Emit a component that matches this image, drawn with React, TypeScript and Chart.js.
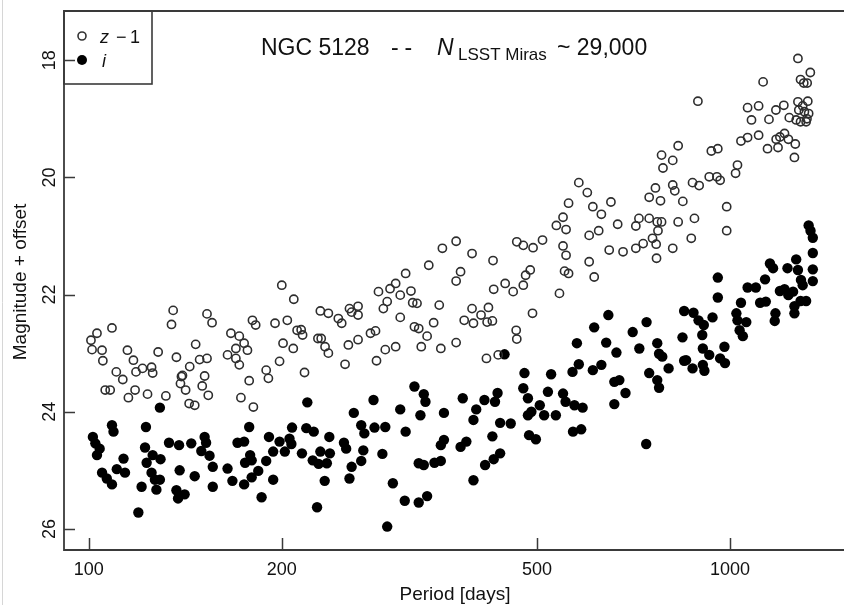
import React, { useEffect, useRef } from "react";
import { Chart, registerables } from "chart.js";

Chart.register(...registerables);

const xTickValues = [100, 200, 500, 1000];
const yTickValues = [18, 20, 22, 24, 26];

// z - 1 (open circles)
const zPeriod = [
  100.8, 103.0, 101.2, 104.9, 105.2, 108.7, 106.1, 108.0, 110.4, 113.0, 114.9, 117.4, 118.5, 118.1, 115.3, 121.3,
  125.3, 125.8, 123.5, 128.3, 131.9, 135.4, 134.6, 137.0, 139.5, 140.0, 139.0, 141.6, 143.7, 143.4, 146.3, 146.8,
  148.9, 152.9, 151.6, 150.3, 153.6, 152.9, 155.7, 164.6, 166.6, 169.6, 169.6, 171.7, 171.7, 174.7, 176.8, 177.9,
  172.7, 180.6, 180.0, 182.1, 189.1, 190.6, 195.2, 198.4, 200.9, 204.0, 208.4, 208.8, 211.3, 214.4, 215.5, 217.0,
  227.7, 230.4, 229.7, 233.6, 236.4, 236.4, 200.0,
  248, 245, 255, 257, 263, 263, 254, 263, 251, 275, 280, 281, 283, 290, 301, 288, 292, 295, 301, 306, 312, 318,
  320, 325, 306, 322, 327, 337, 330, 345, 339, 352, 354, 356, 374, 374, 380, 374, 396, 385, 396, 398, 409, 420,
  418, 426, 417, 435, 427, 428, 446, 459, 464, 465, 465, 476, 493, 510, 480, 488, 476, 492, 536, 555, 549, 555,
  552, 560, 542, 603, 603, 614, 581, 599, 560, 549,
  624, 611, 630, 652, 668, 648, 681, 713, 713, 721, 732, 748, 748, 765, 779, 770, 782, 772, 757, 767, 768, 814,
  782, 786, 814, 830, 814, 820, 844, 830, 870, 880, 874, 895, 891, 928, 935, 957, 954, 965, 988, 988, 1020, 1027,
  1040, 1065, 1065, 1080, 1108, 1108, 1126, 1144, 1150, 1179, 1188, 1196, 1213, 1216, 1233, 1237, 1264, 1260,
  1276, 1276, 1288, 1303, 1319, 1334, 1322, 1280, 1306, 1326, 1288, 1314, 1268, 1298, 1318, 1180,
];
const zMag = [
  22.78, 22.66, 22.94, 22.95, 23.13, 22.57, 23.63, 23.63, 23.32, 23.45, 22.95, 23.12, 23.32, 23.63, 23.76, 23.26,
  23.24, 23.34, 23.7, 22.98, 23.73, 22.27, 22.51, 23.07, 23.4, 23.38, 23.52, 23.63, 23.23, 23.86, 23.89, 22.85,
  23.11, 23.09, 23.39, 23.56, 23.72, 22.33, 22.48, 23.03, 22.66, 22.92, 23.09, 23.2, 22.71, 22.83, 22.95, 23.47,
  23.76, 23.92, 22.44, 22.52, 23.29, 23.43, 22.49, 23.14, 22.83, 22.44, 22.92, 22.08, 22.61, 22.6, 22.69, 23.33,
  22.75, 22.75, 22.28, 22.89, 22.32, 23.0, 21.84,
  22.49, 22.41, 22.24, 22.3, 22.2, 22.35, 22.86, 22.77, 23.19, 22.66, 22.62, 23.13, 21.95, 22.94, 22.89, 22.24,
  22.12, 21.9, 21.81, 22.01, 21.64, 21.94, 22.14, 22.15, 22.39, 22.55, 22.58, 22.71, 22.89, 22.48, 21.5, 22.18,
  22.92, 21.21, 21.09, 21.77, 21.61, 22.82, 21.3, 22.44, 22.24, 22.49, 22.35, 22.22, 22.47, 22.45, 23.09, 23.03,
  21.42, 21.91, 21.81, 21.95, 22.61, 22.76, 21.1, 21.16, 21.2, 21.07, 21.67, 21.58, 21.84, 22.32, 20.82, 20.89,
  21.17, 21.33, 21.6, 21.64, 21.98, 20.99, 21.44, 21.7, 20.09, 20.26, 20.44, 20.68,
  20.91, 20.5, 20.63, 20.42, 20.8, 21.24, 21.27, 21.21, 20.83, 20.7, 21.13, 20.7, 20.34, 20.18, 20.4, 20.76,
  20.76, 20.91, 21.04, 21.14, 21.38, 21.21, 19.62, 19.84, 19.71, 19.46, 20.13, 20.23, 20.41, 20.76, 21.04, 20.7,
  20.09, 20.14, 18.7, 19.99, 19.55, 19.51, 19.99, 20.05, 20.5, 20.91, 19.93, 19.79, 19.38, 19.32, 18.81, 19.02,
  19.28, 18.78, 18.37, 19.51, 19.01, 18.85, 19.49, 19.31, 18.77, 19.25, 19.35, 18.98, 19.43, 19.66, 17.97, 18.71,
  18.33, 18.39, 18.39, 18.21, 18.7, 18.85, 18.88, 18.91, 19.05, 19.05, 19.02, 18.78, 19.0, 19.35,
];

// i (filled circles)
const iPeriod = [
  129.1, 108.7, 109.3, 101.5, 102.4, 104.0, 103.0, 113.3, 110.6, 113.9, 104.9, 106.7, 108.7, 119.5, 122.8, 122.4,
  125.8, 123.1, 129.4, 125.3, 126.8, 129.1, 127.5, 120.9, 133.4, 138.3, 144.5, 138.6, 146.3, 137.0, 137.8, 141.1,
  151.6, 152.4, 149.8, 154.3, 156.1, 156.1, 164.6, 167.5, 170.6, 174.7, 177.9, 178.5, 175.3, 179.5, 183.8, 179.5,
  174.7, 186.0, 191.0, 193.9, 189.1, 193.9, 198.4, 202.2, 205.6, 207.5, 207.0, 215.0, 218.4, 224.3, 223.5, 229.7,
  228.3, 235.1, 233.3, 237.2, 237.7, 227.0, 219.2,
  445, 322, 333, 335, 278, 259, 306, 329, 358, 383, 414, 402, 398, 434, 430, 438, 455, 478, 476, 484, 526, 520,
  549, 554, 572, 589, 505, 490, 484, 513, 535, 581, 568, 611, 614, 577, 569, 586, 486, 498, 426, 438, 428, 415,
  398, 388, 380, 358, 354, 346, 354, 327, 333, 337, 327, 311, 298, 287, 292, 312, 290, 279, 266, 269, 268, 266,
  257, 255, 252, 250,
  630, 646, 641, 665, 660, 672, 687, 660, 705, 741, 722, 770, 775, 784, 748, 770, 775, 802, 843, 848, 848, 854,
  874, 877, 893, 910, 905, 907, 928, 907, 912, 939, 957, 957, 965, 982, 980, 1023, 1040, 1027, 1060, 1035, 1047,
  1065, 1097, 1114, 1137, 1134, 1154, 1167, 1177, 1174, 1196, 1216, 1229, 1268, 1276, 1254, 1290, 1260, 1260,
  1288, 1314, 1326, 1335, 1346, 1346, 1346, 1346, 1298, 1233, 740,
];
const iMag = [
  23.93, 24.23, 24.34, 24.43, 24.54, 24.63, 24.74, 24.8, 24.98, 25.04, 25.04, 25.14, 25.24, 25.72, 24.26, 24.61,
  24.74, 24.87, 24.81, 25.04, 25.16, 25.16, 25.33, 25.28, 24.53, 24.57, 24.54, 25.0, 25.1, 25.34, 25.48, 25.41,
  24.43, 24.53, 24.67, 24.75, 24.94, 25.28, 24.97, 25.18, 24.53, 24.51, 24.26, 24.74, 24.87, 24.83, 25.01, 25.12,
  25.24, 25.46, 24.43, 24.68, 24.84, 25.16, 24.51, 24.68, 24.46, 24.27, 24.55, 24.71, 24.28, 24.34, 24.83, 24.68,
  24.89, 24.88, 25.18, 24.43, 24.71, 25.63, 23.84,
  23.02, 23.57, 23.7, 23.83, 23.8, 24.02, 23.96, 24.06, 24.02, 23.77, 23.8, 23.96, 24.14, 23.68, 23.83, 24.19,
  24.2, 23.34, 23.6, 23.77, 23.36, 23.66, 23.69, 23.83, 23.89, 23.93, 23.89, 24.0, 24.06, 24.06, 24.06, 23.19,
  23.32, 23.29, 22.56, 22.83, 24.34, 24.3, 24.4, 24.47, 24.42, 24.71, 24.81, 24.91, 25.17, 24.51, 24.6, 24.48,
  24.57, 24.87, 24.84, 24.88, 24.91, 25.44, 25.55, 25.52, 25.22, 24.72, 25.96, 24.34, 24.26, 24.27, 24.23, 24.37,
  24.66, 24.84, 24.94, 25.14, 24.63, 24.53,
  23.2, 22.35, 22.82, 22.99, 23.49, 23.46, 23.68, 23.87, 22.64, 22.47, 22.92, 22.83, 23.01, 23.06, 23.34, 23.46,
  23.59, 23.26, 22.73, 22.28, 23.13, 23.12, 23.26, 22.31, 22.44, 22.52, 22.69, 22.92, 23.03, 23.2, 23.3, 22.39,
  21.71, 22.05, 23.09, 23.17, 22.89, 22.32, 22.14, 22.44, 22.47, 22.61, 22.71, 21.88, 21.88, 22.14, 22.12, 21.74,
  21.47, 21.55, 22.32, 22.45, 21.94, 21.91, 21.55, 21.4, 21.58, 21.95, 21.75, 22.2, 22.32, 22.11, 22.11, 20.82,
  20.91, 21.03, 21.29, 21.57, 21.77, 21.84, 22.01, 24.55,
];

const FONT = '"Liberation Sans", Arial, Helvetica, sans-serif';
const INK = "#111";
const FRAME = "#3a3a3a";

const decorPlugin = {
  id: "decor",
  afterDraw(chart: any) {
    const ctx = chart.ctx as CanvasRenderingContext2D;
    const area = chart.chartArea;
    const xs = chart.scales.x;
    const ys = chart.scales.y;
    ctx.save();

    // faint outer image border
    ctx.strokeStyle = "#d6d6d6";
    ctx.lineWidth = 1;
    ctx.beginPath();
    ctx.moveTo(2.5, 0);
    ctx.lineTo(2.5, 605);
    ctx.stroke();

    // frame (left, top, bottom)
    ctx.strokeStyle = FRAME;
    ctx.lineWidth = 1.8;
    ctx.beginPath();
    ctx.moveTo(844, area.top);
    ctx.lineTo(area.left, area.top);
    ctx.lineTo(area.left, area.bottom);
    ctx.lineTo(844, area.bottom);
    ctx.stroke();

    // inward tick marks
    ctx.lineWidth = 1.5;
    ctx.beginPath();
    for (const v of xTickValues) {
      const px = Math.round(xs.getPixelForValue(v)) + 0.5;
      ctx.moveTo(px, area.bottom);
      ctx.lineTo(px, area.bottom - 12);
    }
    for (const v of yTickValues) {
      const py = Math.round(ys.getPixelForValue(v)) + 0.5;
      ctx.moveTo(area.left, py);
      ctx.lineTo(area.left + 11, py);
    }
    ctx.stroke();

    ctx.fillStyle = INK;
    // x tick labels
    ctx.font = `18px ${FONT}`;
    ctx.textAlign = "center";
    ctx.textBaseline = "alphabetic";
    for (const v of xTickValues) {
      ctx.fillText(String(v), xs.getPixelForValue(v), 575);
    }
    // y tick labels (rotated)
    for (const v of yTickValues) {
      ctx.save();
      ctx.translate(55, ys.getPixelForValue(v));
      ctx.rotate(-Math.PI / 2);
      ctx.fillText(String(v), 0, 0);
      ctx.restore();
    }
    // axis titles
    ctx.font = `19px ${FONT}`;
    ctx.fillText("Period [days]", 455, 600);
    ctx.save();
    ctx.translate(26, 282);
    ctx.rotate(-Math.PI / 2);
    ctx.fillText("Magnitude + offset", 0, 0);
    ctx.restore();

    // title
    ctx.textAlign = "left";
    ctx.font = `23px ${FONT}`;
    ctx.fillText("NGC 5128", 261, 55);
    ctx.fillText("-", 391, 55);
    ctx.fillText("-", 404.5, 55);
    ctx.font = `italic 23px ${FONT}`;
    ctx.fillText("N", 437, 55);
    ctx.font = `17px ${FONT}`;
    ctx.fillText("LSST Miras", 458, 60);
    ctx.font = `23px ${FONT}`;
    ctx.fillText("~ 29,000", 557, 55);

    // legend box
    ctx.strokeStyle = FRAME;
    ctx.lineWidth = 1.6;
    ctx.strokeRect(area.left, area.top, 152 - area.left, 84 - area.top);
    ctx.beginPath();
    ctx.lineWidth = 1.6;
    ctx.strokeStyle = "#333";
    ctx.arc(82, 36, 4.0, 0, Math.PI * 2);
    ctx.stroke();
    ctx.beginPath();
    ctx.fillStyle = "#000";
    ctx.arc(82, 60, 5.0, 0, Math.PI * 2);
    ctx.fill();
    ctx.fillStyle = INK;
    ctx.font = `italic 18px ${FONT}`;
    ctx.fillText("z", 100, 43);
    ctx.fillText("i", 102, 67);
    ctx.font = `18px ${FONT}`;
    ctx.fillText("\u2212", 116, 43);
    ctx.fillText("1", 130, 43);

    ctx.restore();
  },
};

export default function App() {
  const ref = useRef<HTMLCanvasElement | null>(null);

  useEffect(() => {
    document.body.style.margin = "0";
    const canvas = ref.current;
    if (!canvas) return;
    const zData = zPeriod.map((p, k) => ({ x: p, y: zMag[k] }));
    const iData = iPeriod.map((p, k) => ({ x: p, y: iMag[k] }));
    const chart = new Chart(canvas, {
      type: "scatter",
      data: {
        datasets: [
          {
            label: "z - 1",
            data: zData,
            pointRadius: 4.1,
            pointBorderWidth: 1.6,
            pointBorderColor: "#2e2e2e",
            pointBackgroundColor: "rgba(0,0,0,0)",
            pointHoverRadius: 4.1,
          },
          {
            label: "i",
            data: iData,
            pointRadius: 5.2,
            pointBorderWidth: 0,
            pointBorderColor: "#000",
            pointBackgroundColor: "#000",
            pointHoverRadius: 5.2,
          },
        ],
      },
      options: {
        animation: false,
        responsive: false,
        devicePixelRatio: 1,
        layout: { padding: { left: 64, top: 11, right: 0, bottom: 55 } },
        plugins: {
          legend: { display: false },
          tooltip: { enabled: false },
          title: { display: false },
        },
        scales: {
          x: { type: "logarithmic", display: false, min: 91.5, max: 1475 },
          y: { type: "linear", display: false, reverse: true, min: 17.16, max: 26.36 },
        },
      },
      plugins: [decorPlugin],
    });
    return () => chart.destroy();
  }, []);

  return (
    <div style={{ width: 844, height: 605, background: "#fff" }}>
      <canvas ref={ref} width={844} height={605} style={{ display: "block" }} />
    </div>
  );
}
